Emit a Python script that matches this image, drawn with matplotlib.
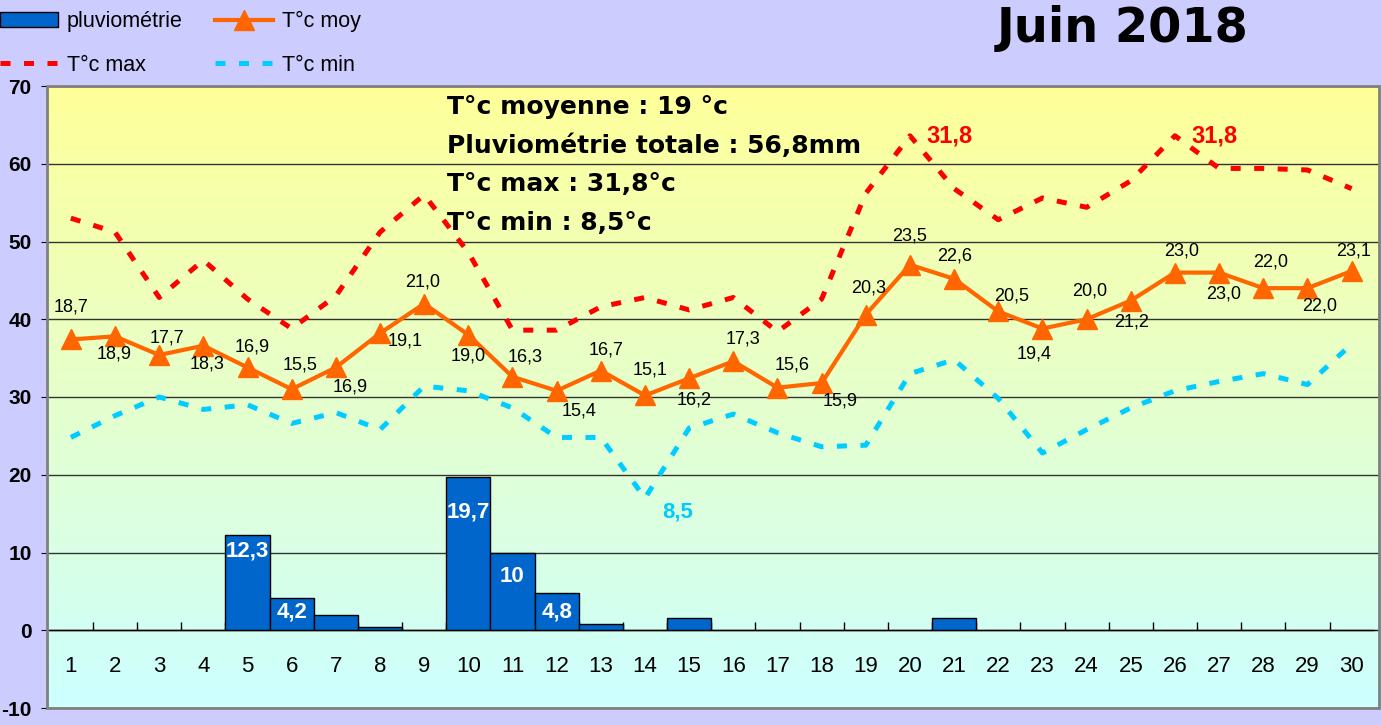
import numpy as np
import matplotlib
matplotlib.use('Agg')
import matplotlib.pyplot as plt
from matplotlib.lines import Line2D
from matplotlib.patches import Patch, Rectangle

# ---------------- data ----------------
days = list(range(1, 31))
day_labels = [str(d) for d in days]
rain = [0, 0, 0, 0, 12.3, 4.2, 2.0, 0.4, 0, 19.7, 10.0, 4.8, 0.8, 0, 1.6,
        0, 0, 0, 0, 0, 1.6, 0, 0, 0, 0, 0, 0, 0, 0, 0]
t_moy = [18.7, 18.9, 17.7, 18.3, 16.9, 15.5, 16.9, 19.1, 21.0, 19.0,
         16.3, 15.4, 16.7, 15.1, 16.2, 17.3, 15.6, 15.9, 20.3, 23.5,
         22.6, 20.5, 19.4, 20.0, 21.2, 23.0, 23.0, 22.0, 22.0, 23.1]
t_max = [26.5, 25.6, 21.4, 23.8, 21.3, 19.4, 21.5, 25.6, 28.0, 24.3,
         19.3, 19.3, 20.8, 21.4, 20.6, 21.4, 19.2, 21.3, 28.1, 31.8,
         28.4, 26.4, 27.8, 27.2, 28.9, 31.8, 29.7, 29.7, 29.6, 28.4]
t_min = [12.4, 13.8, 15.0, 14.2, 14.5, 13.3, 14.0, 12.9, 15.7, 15.4,
         14.3, 12.4, 12.4, 8.5, 13.0, 13.9, 12.7, 11.8, 11.9, 16.5,
         17.4, 14.9, 11.4, 12.9, 14.3, 15.4, 16.0, 16.5, 15.8, 18.4]
summary_lines = ["T°c moyenne : 19 °c",
                 "Pluviométrie totale : 56,8mm",
                 "T°c max : 31,8°c",
                 "T°c min : 8,5°c"]
title = "Juin 2018"

# label placement (pixel offsets, +dy = downward)
moy_offsets = [(0, -32), (-1, 18), (8, -17), (4, 18), (5, -20), (8, -24), (14, 20),
               (25, 8), (-2, -22), (0, 21), (13, -20), (22, 20), (5, -21), (5, -25),
               (5, 22), (10, -22), (15, -23), (18, 18), (3, -27), (0, -29), (0, -23),
               (13, -15), (-8, 25), (3, -28), (1, 21), (7, -22), (5, 21), (7, -26),
               (12, 18), (2, -20)]
rain_label_drop = {5: 16, 6: 14, 10: 35, 11: 24, 12: 19}

# ---------------- style ----------------
plt.rcParams['font.family'] = ['Liberation Sans', 'DejaVu Sans']
plt.rcParams['axes.unicode_minus'] = False
BG = '#CCCCFF'
ORANGE = '#FF6600'
RED = '#FF0000'
CYAN = '#00CCFF'
BLUE = '#0066CC'
PX = 0.72  # pixels -> points at dpi 100

fig = plt.figure(figsize=(13.81, 7.25), dpi=100, facecolor=BG)
ax = fig.add_axes([47 / 1381, 1 - 708 / 725, 1332 / 1381, (708 - 86) / 725])

# gradient background
top = np.array([255, 255, 153]) / 255
bot = np.array([204, 255, 255]) / 255
t = np.linspace(0, 1, 256)[:, None]
grad = (top[None, :] * (1 - t) + bot[None, :] * t)[:, None, :]
ax.imshow(grad, extent=[0, 1, 0, 1], transform=ax.transAxes, aspect='auto', zorder=0)

ax.set_xlim(0.46, 30.62)
ax.set_ylim(-10, 70)
ax.set_yticks(range(-10, 71, 10))
ax.yaxis.grid(True, color='#333333', lw=1)
ax.set_axisbelow(True)

# bars
bars = ax.bar(days, rain, width=1.0, color=BLUE, edgecolor='black', lw=1, zorder=2)
for d, v in zip(days, rain):
    if d in rain_label_drop:
        ax.annotate(f"{v:g}".replace('.', ','), (d, v),
                    xytext=(0, -rain_label_drop[d] * PX), textcoords='offset points',
                    ha='center', va='center', color='white', fontsize=16,
                    fontweight='bold', zorder=3)

# axes styling
ax.spines['bottom'].set_position(('data', 0))
ax.spines['bottom'].set_color('black')
ax.spines['left'].set_color('black')
ax.spines['top'].set_visible(False)
ax.spines['right'].set_visible(False)
ax.add_patch(Rectangle((0, 0), 1, 1, transform=ax.transAxes, fill=False,
                       edgecolor='#808080', lw=2, clip_on=False, zorder=5))
ax.set_xticks(days)
ax.set_xticklabels(day_labels)
ax.tick_params(axis='x', which='major', length=0, pad=18.5, labelsize=16)
ax.set_xticks([d + 0.5 for d in days[:-1]], minor=True)
ax.tick_params(axis='x', which='minor', direction='in', length=6, width=1, color='black')
ax.tick_params(axis='y', direction='out', length=4, pad=7, labelsize=15)
for lab in ax.get_yticklabels():
    lab.set_fontweight('bold')

# temperatures on hidden secondary axis (2:1 scale)
ax2 = ax.twinx()
ax2.set_ylim(-5, 35)
ax2.axis('off')
dash_kw = dict(lw=3.6, dashes=(2.0, 2.7), dash_capstyle='butt')
ax2.plot(days, t_max, color=RED, **dash_kw, zorder=3)
ax2.plot(days, t_min, color=CYAN, **dash_kw, zorder=3)
ax2.plot(days, t_moy, color=ORANGE, lw=3, marker='^', markersize=14, zorder=4)

for d, v, (dx, dy) in zip(days, t_moy, moy_offsets):
    ax2.annotate(f"{v:.1f}".replace('.', ','), (d, v), xytext=(dx * PX, -dy * PX),
                 textcoords='offset points', ha='center', va='center', fontsize=13,
                 color='black', zorder=6)

vmax = max(t_max)
for d, v in zip(days, t_max):
    if v == vmax:
        ax2.annotate(f"{v:.1f}".replace('.', ','), (d, v), xytext=(40 * PX, 0),
                     textcoords='offset points', ha='center', va='center',
                     fontsize=17, fontweight='bold', color=RED)
vmin = min(t_min)
for d, v in zip(days, t_min):
    if v == vmin:
        ax2.annotate(f"{v:.1f}".replace('.', ','), (d, v), xytext=(33 * PX, -14 * PX),
                     textcoords='offset points', ha='center', va='center',
                     fontsize=16, fontweight='bold', color=CYAN)

# summary text
for i, line in enumerate(summary_lines):
    fig.text(447 / 1381, 1 - (107 + i * 38.5) / 725, line, ha='left', va='center',
             fontsize=18, fontweight='bold', color='black', family='DejaVu Sans')

# title
fig.text(1123 / 1381, 1 - 29 / 725, title, ha='center', va='center',
         fontsize=34.5, fontweight='bold', color='black', family='DejaVu Sans')

# legend
handles = [Patch(facecolor=BLUE, edgecolor='black', lw=1),
           Line2D([], [], color=RED, **dash_kw),
           Line2D([], [], color=ORANGE, lw=3, marker='^', markersize=14),
           Line2D([], [], color=CYAN, **dash_kw)]
labels = ['pluviométrie', 'T°c max', 'T°c moy', 'T°c min']
fig.legend(handles, labels, loc='upper left', bbox_to_anchor=(0.0, 1 - 11 / 725),
           ncol=2, frameon=False, fontsize=15.5, handlelength=2.7, handletextpad=0.4,
           columnspacing=1.5, labelspacing=1.05, borderpad=0, borderaxespad=0)

fig.savefig('out.png', dpi=100, facecolor=BG)
